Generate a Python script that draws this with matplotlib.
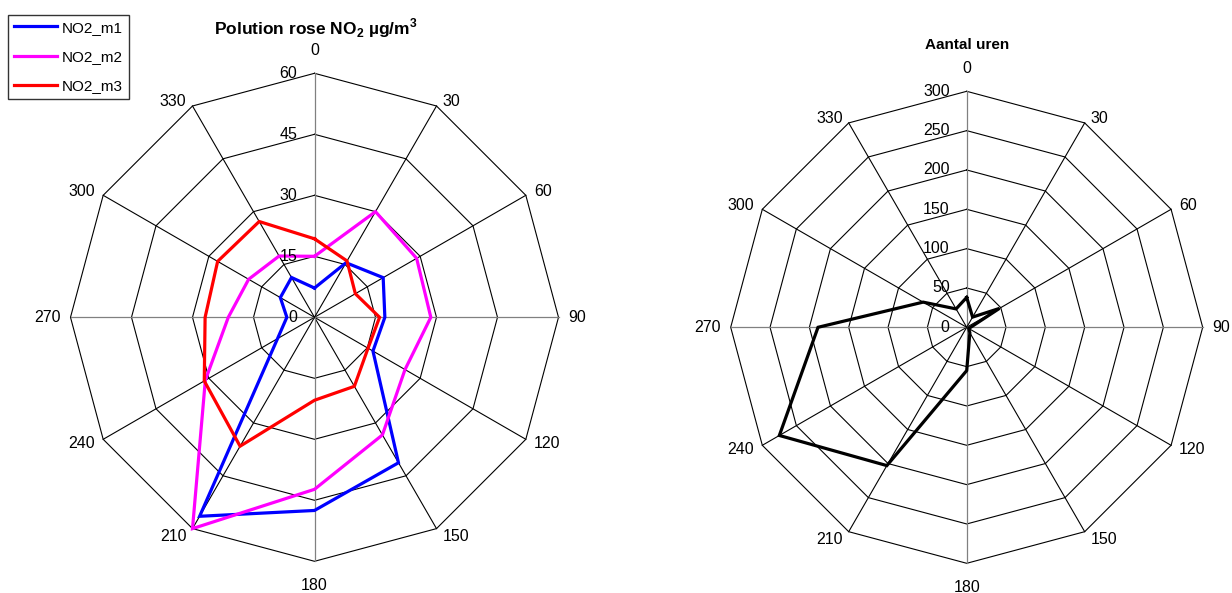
import numpy as np
import matplotlib
matplotlib.use("Agg")
import matplotlib.pyplot as plt

plt.rcParams["font.family"] = ["Liberation Sans", "DejaVu Sans"]
plt.rcParams["mathtext.fontset"] = "custom"
plt.rcParams["mathtext.rm"] = "Liberation Sans"
plt.rcParams["mathtext.bf"] = "Liberation Sans:bold"

# Wind directions (degrees, clockwise from north)
directions = [0, 30, 60, 90, 120, 150, 180, 210, 240, 270, 300, 330]

# NO2 concentration per wind direction (µg/m3)
no2_m1 = [7.2, 15.5, 19.5, 17.3, 16.6, 41.3, 47.5, 56.5, 10.5, 6.8, 9.7, 11.3]
no2_m2 = [15.0, 30.0, 29.0, 28.6, 25.7, 33.4, 42.3, 60.0, 31.0, 21.2, 18.7, 17.4]
no2_m3 = [19.3, 16.0, 11.6, 16.0, 15.2, 19.6, 20.4, 36.6, 31.3, 26.9, 27.5, 27.2]
series_names = ["NO2_m1", "NO2_m2", "NO2_m3"]
series_colors = ["#0000ff", "#ff00ff", "#ff0000"]

# Number of hours per wind direction
hours = [38, 15, 48, 5, 3, 8, 55, 203, 275, 189, 64, 27]

no2_ticks = [0, 15, 30, 45, 60]
hour_ticks = [0, 50, 100, 150, 200, 250, 300]

W, H = 1232, 593
fig = plt.figure(figsize=(W / 100, H / 100), dpi=100)

LABEL_SIZE = 11.5

# label placement per direction: (ha, va, dx px, dy px)
label_pos = {
    0: ("center", "baseline", 0, 18),
    30: ("left", "baseline", 6, 0),
    60: ("left", "center", 8, 4),
    90: ("left", "center", 10, 0),
    120: ("left", "center", 8, -4),
    150: ("left", "top", 6, 0),
    180: ("center", "top", 0, -17),
    210: ("right", "top", -6, 0),
    240: ("right", "center", -8, -4),
    270: ("right", "center", -10, 0),
    300: ("right", "center", -8, 4),
    330: ("right", "baseline", -6, 0),
}


def xy(values):
    th = np.deg2rad(np.asarray(directions, dtype=float))
    v = np.asarray(values, dtype=float)
    x = v * np.sin(th)
    y = v * np.cos(th)
    return np.append(x, x[0]), np.append(y, y[0])


def radar_axes(cx, cy, radius_px, vmax, half=290):
    ax = fig.add_axes([(cx - half) / W, (H - cy - half) / H, 2 * half / W, 2 * half / H])
    lim = half / radius_px * vmax
    ax.set_xlim(-lim, lim)
    ax.set_ylim(-lim, lim)
    ax.set_aspect("equal")
    ax.axis("off")
    return ax


def draw_grid(ax, ticks):
    vmax = ticks[-1]
    for t in ticks[1:]:
        gx, gy = xy([t] * len(directions))
        ax.plot(gx, gy, color="black", lw=0.8, zorder=1)
    for d in directions:
        th = np.deg2rad(d)
        col = "#808080" if d % 90 == 0 else "black"
        ax.plot([0, vmax * np.sin(th)], [0, vmax * np.cos(th)], color=col,
                lw=0.9 if d % 90 == 0 else 0.8, zorder=1)
    for t in ticks:
        ax.annotate(str(t), (0, t), xytext=(-17 * 0.72, 0), textcoords="offset points",
                    ha="right", va="center", fontsize=LABEL_SIZE, zorder=5)
    for d in directions:
        th = np.deg2rad(d)
        ha, va, dx, dy = label_pos[d]
        ax.annotate(str(d), (vmax * np.sin(th), vmax * np.cos(th)),
                    xytext=(dx * 0.72, dy * 0.72), textcoords="offset points",
                    ha=ha, va=va, fontsize=LABEL_SIZE)


# Pollution rose
ax1 = radar_axes(314.5, 317.3, 244, no2_ticks[-1])
draw_grid(ax1, no2_ticks)
handles = []
for vals, name, col in zip([no2_m1, no2_m2, no2_m3], series_names, series_colors):
    px, py = xy(vals)
    h, = ax1.plot(px, py, color=col, lw=2.3, label=name, zorder=3,
                  solid_joinstyle="miter")
    handles.append(h)
fig.text(316 / W, 1 - 28 / H, r"Polution rose NO$_\mathbf{2}$ µg/m$^\mathbf{3}$",
         ha="center", va="center", fontsize=12.5, fontweight="bold")

leg = fig.legend(handles=handles, loc="upper left",
                 bbox_to_anchor=(8 / W, 1 - 15 / H), fontsize=11,
                 frameon=True, fancybox=False, edgecolor="black",
                 handlelength=2.85, handletextpad=0.3, labelspacing=1.0,
                 borderpad=0.38, borderaxespad=0)
leg.get_frame().set_linewidth(1.0)

# Hours per direction
ax2 = radar_axes(966.7, 327.3, 236, hour_ticks[-1])
draw_grid(ax2, hour_ticks)
hx, hy = xy(hours)
ax2.plot(hx, hy, color="black", lw=2.3, zorder=3, solid_joinstyle="miter")
fig.text(966.7 / W, 1 - 45 / H, "Aantal uren", ha="center", va="center",
         fontsize=11, fontweight="bold")

fig.savefig("out.png", dpi=100)
